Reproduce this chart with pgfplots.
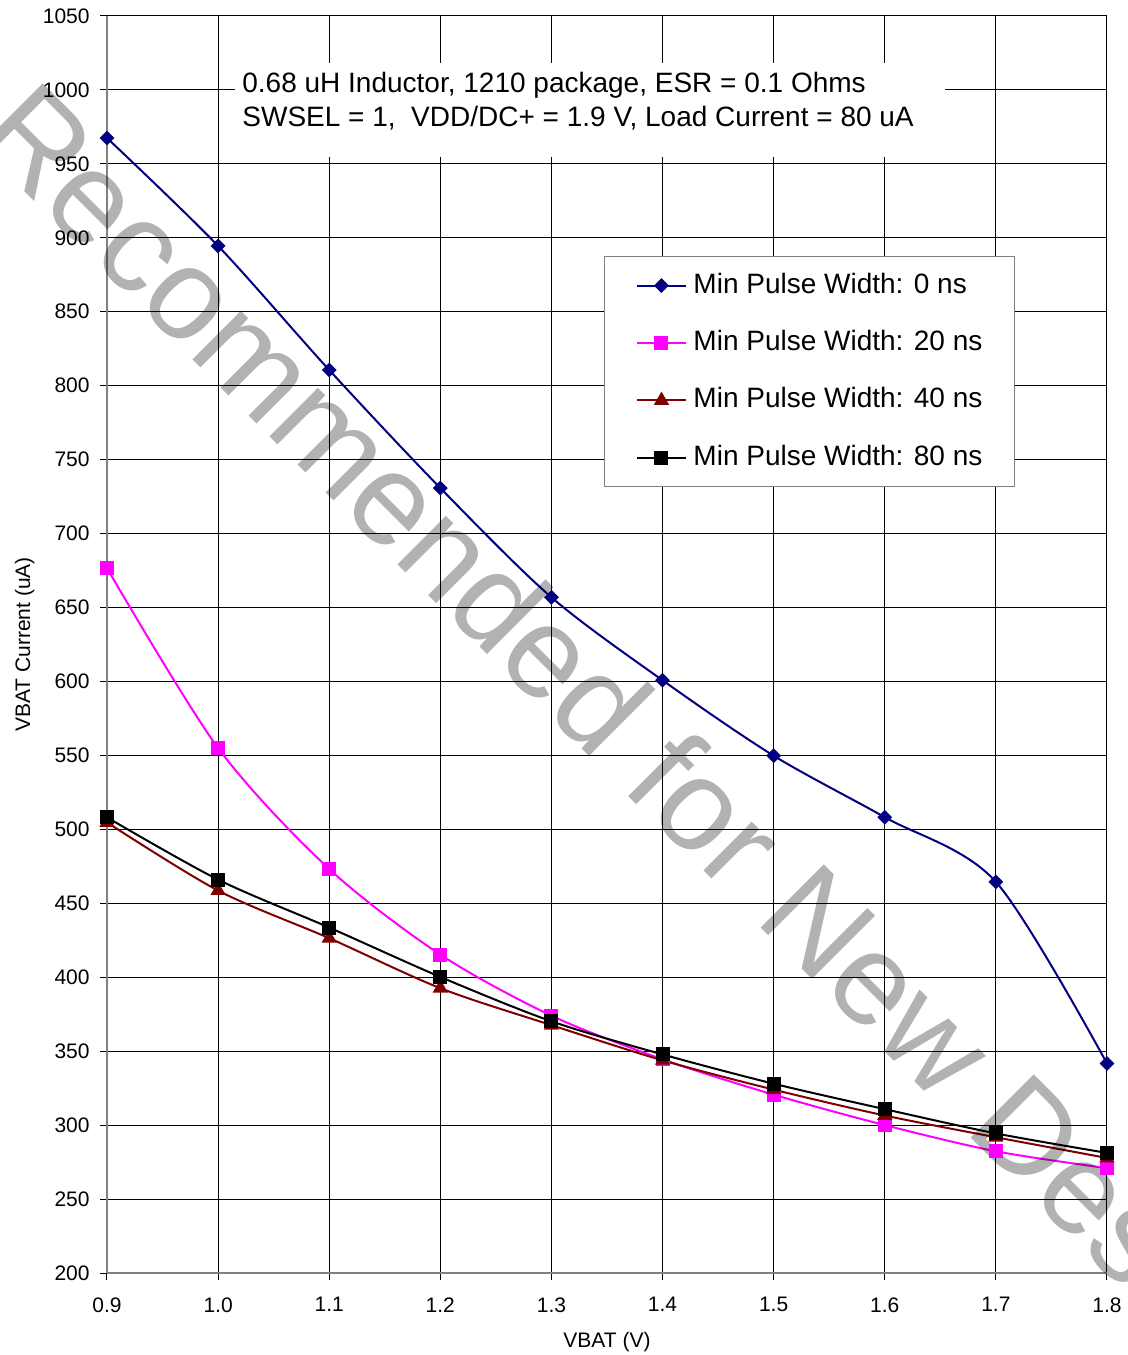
\documentclass[border=0pt]{standalone}
\usepackage{fontspec}
\setmainfont{Liberation Sans}
\usepackage{pgfplots}
\pgfplotsset{compat=1.18}

\begin{document}
\begin{tikzpicture}

\definecolor{navyline}{RGB}{0,0,128}
\definecolor{magentaline}{RGB}{255,0,255}
\definecolor{darkredline}{RGB}{128,0,0}
\definecolor{wmgray}{RGB}{178,178,178}
\definecolor{legendgray}{RGB}{128,128,128}

\begin{axis}[
  name=ax,
  scale only axis,
  width=500pt, height=628.5pt,
  xmin=0.9, xmax=1.8,
  ymin=200, ymax=1050,
  clip=false,
  xtick={0.9,1.0,1.1,1.2,1.3,1.4,1.5,1.6,1.7,1.8},
  xticklabels={0.9,1.0,1.1,1.2,1.3,1.4,1.5,1.6,1.7,1.8},
  ytick={200,250,300,350,400,450,500,550,600,650,700,750,800,850,900,950,1000,1050},
  grid=major,
  grid style={black, line width=0.5pt},
  axis x line*=bottom,
  axis y line*=left,
  axis line style={-, draw=legendgray, line width=1pt},
  tick align=outside,
  major tick length=3.5pt,
  tick style={black, line width=0.5pt},
  /pgf/number format/assume math mode=true,
  /pgf/number format/1000 sep={},
  ticklabel style={font=\fontsize{10.5}{12}\selectfont},
  yticklabel style={anchor=east, inner sep=0pt, xshift=-5pt},
  xticklabel style={anchor=north, inner sep=0pt, yshift=-8.5pt},
  xlabel={VBAT (V)},
  ylabel={VBAT Current (uA)},
  label style={font=\fontsize{10.5}{12}\selectfont},
  xlabel style={at={(axis description cs:0.5,-0.0589)}, anchor=base},
  ylabel style={at={(axis description cs:-0.077,0.5)}, anchor=base},
  legend cell align=left,
  legend style={
    at={(0.497,0.809)}, anchor=north west,
    draw=legendgray, line width=0.5pt, fill=white,
    font=\fontsize{14}{16}\selectfont,
    inner xsep=16pt, inner ysep=7.75pt,
    row sep=15.2pt, column sep=3.5pt,
    nodes={inner sep=0pt, text height=10.5pt, text depth=3pt}
  },
  legend image code/.code={
    \draw[mark repeat=2, mark phase=2, #1]
      plot coordinates {(0pt,0pt) (12pt,0pt) (24pt,0pt)};
  },
]

% 0 ns
\addplot[navyline, line width=1pt, smooth, mark=diamond*, mark size=3pt,
  mark options={solid, xscale=1.333}] table {
x y
0.9 967.5
1.0 894.5
1.1 810.6
1.2 730.8
1.3 656.9
1.4 600.8
1.5 549.8
1.6 508.2
1.7 464.5
1.8 341.7
};
\addlegendentry{Min Pulse Width: 0 ns}

% 20 ns
\addplot[magentaline, line width=1pt, smooth, mark=square*, mark size=3pt,
  mark options={solid}] table {
x y
0.9 676.6
1.0 555.0
1.1 473.2
1.2 415.3
1.3 374.0
1.4 344.5
1.5 320.6
1.6 300.0
1.7 282.3
1.8 270.9
};
\addlegendentry{Min Pulse Width: 20 ns}

% 40 ns
\addplot[darkredline, line width=1pt, smooth, mark=triangle*, mark size=3.4pt,
  mark options={solid}] table {
x y
0.9 504.7
1.0 458.6
1.1 426.4
1.2 392.6
1.3 367.6
1.4 343.8
1.5 324.0
1.6 306.5
1.7 291.8
1.8 277.8
};
\addlegendentry{Min Pulse Width: 40 ns}

% 80 ns
\addplot[black, line width=1pt, smooth, mark=square*, mark size=3pt,
  mark options={solid}] table {
x y
0.9 508.1
1.0 466.0
1.1 433.6
1.2 400.2
1.3 370.2
1.4 347.8
1.5 328.0
1.6 310.8
1.7 294.4
1.8 281.2
};
\addlegendentry{Min Pulse Width: 80 ns}

% note box
\fill[white] (axis cs:1.0152,1018) rectangle (axis cs:1.6542,954.7);
\node[anchor=base west, inner sep=0pt, font=\fontsize{14}{17}\selectfont]
  at (axis cs:1.0215,998.6) {0.68 uH Inductor, 1210 package, ESR = 0.1 Ohms};
\node[anchor=base west, inner sep=0pt, font=\fontsize{14}{17}\selectfont]
  at (axis cs:1.0215,975.4) {SWSEL = 1, \ VDD/DC+ = 1.9 V, Load Current = 80 uA};

% watermark
\node[rotate=-45, anchor=base west, inner sep=0pt, text=wmgray,
  blend mode=multiply, font=\fontsize{65}{78}\selectfont]
  at (rel axis cs:-0.135,0.9021) {Recommended for New Designs};

\end{axis}

\pgfresetboundingbox
\useasboundingbox ([shift={(-53.5pt,-41pt)}]ax.south west)
  rectangle ([shift={(10.5pt,8pt)}]ax.north east);

\end{tikzpicture}
\end{document}
